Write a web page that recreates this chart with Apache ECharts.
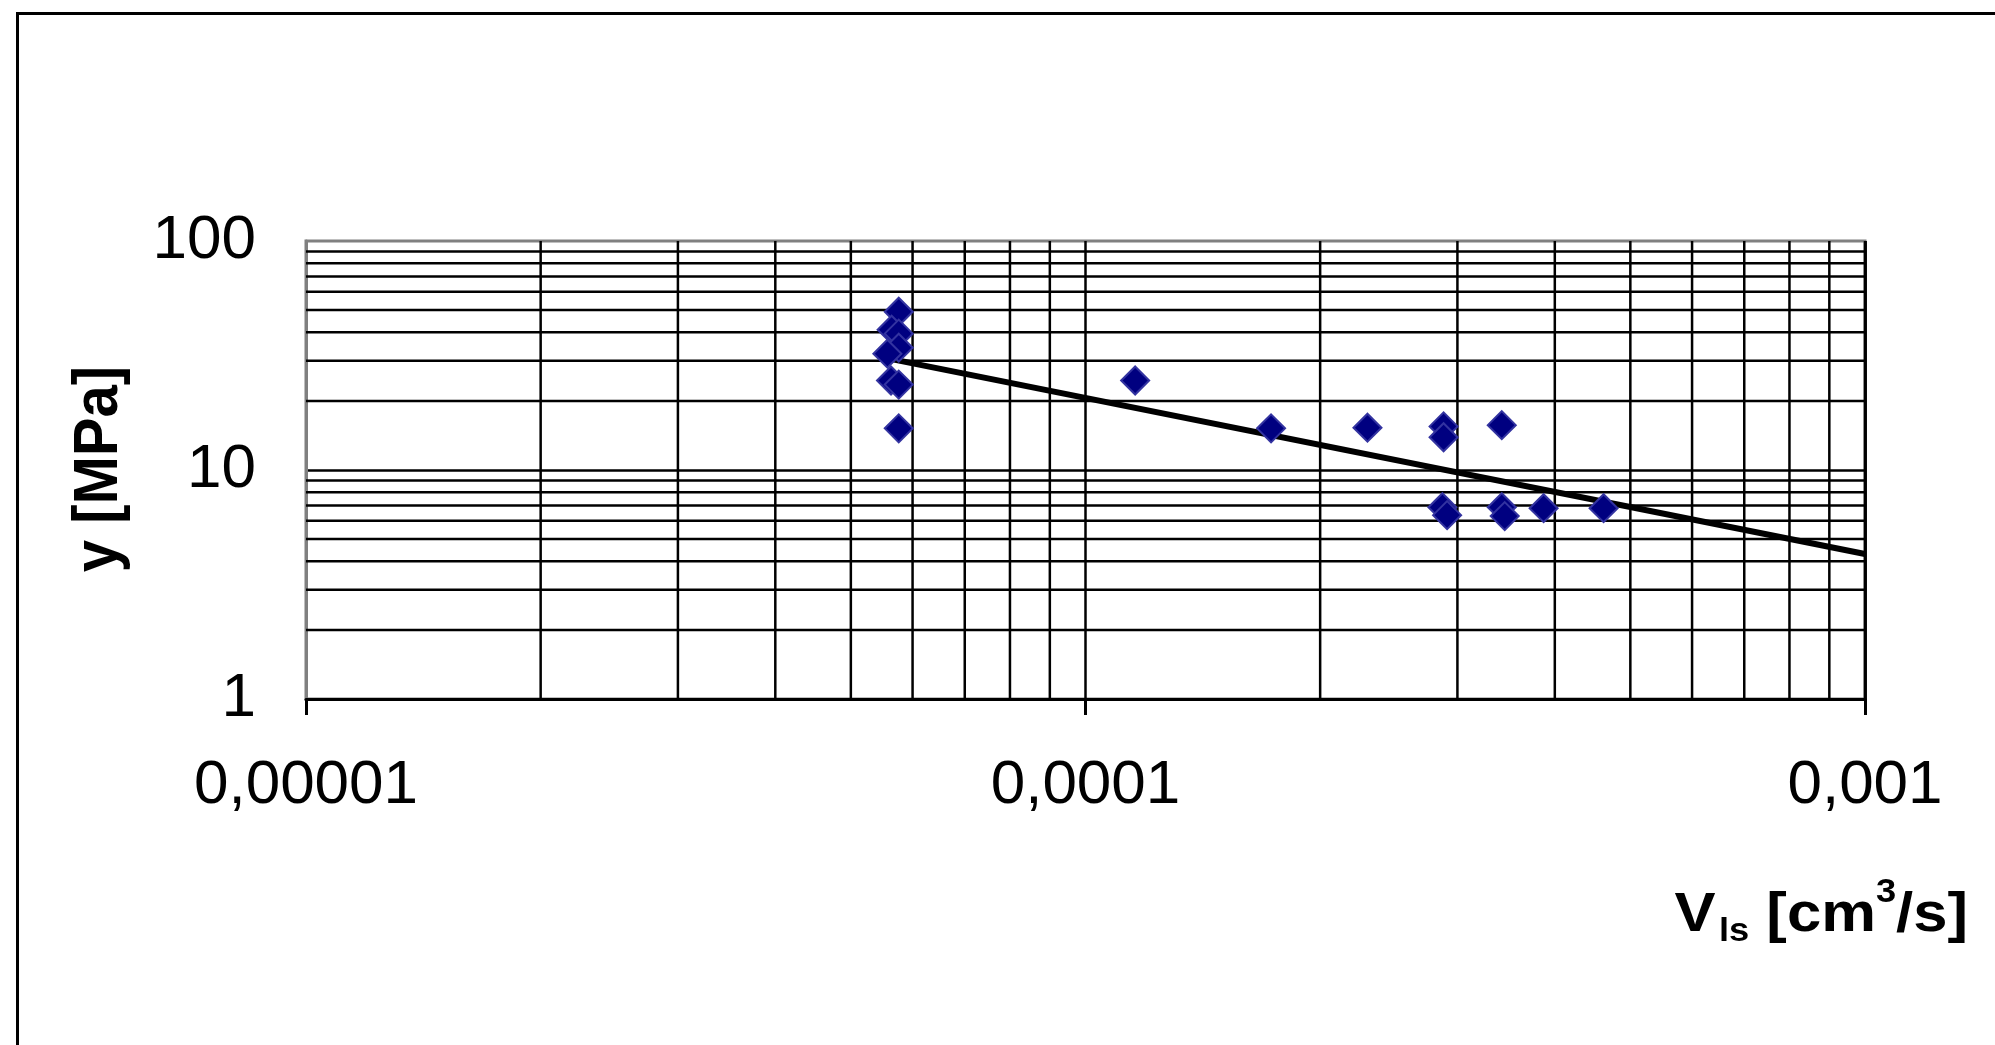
<!DOCTYPE html>
<html lang="en">
<head>
  <meta charset="UTF-8">
  <title>y vs Vls</title>
  <style>
    html, body { margin: 0; padding: 0; background: #fff; }
    #chart { width: 1995px; height: 1045px; }
  </style>
</head>
<body>
  <div id="chart"></div>
  <script src="https://cdn.jsdelivr.net/npm/echarts@6/dist/echarts.min.js"></script>
  <script>
    // tick labels (decimal comma, as in the original)
    const xTicks = [0.00001, 0.0001, 0.001];
    const xTickLabels = ['0,00001', '0,0001', '0,001'];
    const yTicks = [1, 10, 100];
    const yTickLabels = ['1', '10', '100'];

    // minor grid lines of the log-log paper
    const xMinorGrid = [2e-5, 3e-5, 4e-5, 5e-5, 6e-5, 7e-5, 8e-5, 9e-5,
                        2e-4, 3e-4, 4e-4, 5e-4, 6e-4, 7e-4, 8e-4, 9e-4, 1e-3];
    const yMinorGrid = [2, 3, 4, 5, 6, 7, 8, 9, 20, 30, 40, 50, 60, 70, 80, 90];

    // measured points: Vls [cm3/s] and y [MPa]
    const vls = [5.76e-5, 5.64e-5, 5.76e-5, 5.76e-5, 5.57e-5, 5.63e-5, 5.76e-5, 5.76e-5,
                 1.158e-4, 1.73e-4, 2.30e-4, 2.88e-4, 2.88e-4, 3.42e-4,
                 2.87e-4, 2.91e-4, 3.42e-4, 3.45e-4, 3.87e-4, 4.62e-4];
    const yMPa = [49.1, 41.0, 39.4, 34.2, 32.2, 24.6, 23.6, 15.2,
                  24.6, 15.2, 15.3, 15.5, 13.9, 15.7,
                  6.88, 6.35, 6.88, 6.29, 6.81, 6.81];

    // power trend line end points
    const trendX = [5.64e-5, 1e-3];
    const trendY = [30.5, 4.3];

    function pickLabel(v, ticks, labels) {
      let best = 0;
      for (let i = 1; i < ticks.length; i++) {
        if (Math.abs(Math.log10(v) - Math.log10(ticks[i])) <
            Math.abs(Math.log10(v) - Math.log10(ticks[best]))) best = i;
      }
      return labels[best];
    }

    const font = 'Liberation Sans, Arial, sans-serif';
    const gridStyle = { color: '#000', width: 2.5 };

    function gridSeries(points) {
      return {
        type: 'line', z: 1, silent: true, symbol: 'none', showSymbol: false,
        lineStyle: gridStyle, data: points
      };
    }
    const gridLines = xMinorGrid.map(x => gridSeries([[x, 1], [x, 100]]))
      .concat(yMinorGrid.map(y => gridSeries([[xTicks[0], y], [xTicks[2], y]])));

    const chart = echarts.init(document.getElementById('chart'), null, { renderer: 'canvas' });

    const option = {
      animation: false,
      backgroundColor: '#fff',
      grid: {
        left: 306, top: 241, width: 1559, height: 458,
        show: true, borderColor: '#808080', borderWidth: 3, backgroundColor: 'transparent'
      },
      xAxis: {
        type: 'log', logBase: 10, min: 0.00001, max: 0.001,
        axisLine: { show: true, lineStyle: { color: '#000', width: 3 } },
        axisTick: { show: true, length: 16, lineStyle: { color: '#000', width: 3 } },
        axisLabel: {
          margin: 56, fontSize: 62, color: '#000', fontFamily: font,
          formatter: v => pickLabel(v, xTicks, xTickLabels)
        },
        splitLine: { show: true, showMinLine: false, lineStyle: gridStyle }
      },
      yAxis: {
        type: 'log', logBase: 10, min: 1, max: 100,
        axisLine: { show: true, lineStyle: { color: '#808080', width: 3 } },
        axisTick: { show: false },
        axisLabel: {
          margin: 50, fontSize: 62, color: '#000', fontFamily: font,
          formatter: v => pickLabel(v, yTicks, yTickLabels)
        },
        splitLine: { show: true, showMaxLine: false, lineStyle: gridStyle }
      },
      series: gridLines.concat([
        {
          type: 'line',
          z: 2,
          data: trendX.map((x, i) => [x, trendY[i]]),
          showSymbol: false,
          symbol: 'none',
          lineStyle: { color: '#000', width: 6 },
          silent: true
        },
        {
          type: 'scatter',
          z: 3,
          symbol: 'diamond',
          symbolSize: 28,
          itemStyle: { color: '#000080', borderColor: '#3333a0', borderWidth: 2, opacity: 1 },
          data: vls.map((x, i) => [x, yMPa[i]])
        }
      ]),
      graphic: [
        {
          type: 'rect', silent: true, z: 10,
          shape: { x: 17.5, y: 13.5, width: 2100, height: 1100 },
          style: { fill: 'none', stroke: '#000', lineWidth: 3 }
        },
        {
          type: 'text', x: 99, y: 469, rotation: Math.PI / 2, scaleY: 1.1,
          style: { text: 'y [MPa]', font: 'bold 58px ' + font, fill: '#000', align: 'center', verticalAlign: 'middle' }
        },
        {
          type: 'group', x: 1968, y: 0, scaleX: 1.1,
          children: [
            { type: 'text', x: -266.8, y: 916, style: { text: 'V', font: 'bold 56px ' + font, fill: '#000', verticalAlign: 'middle' } },
            { type: 'text', x: -226.4, y: 932, style: { text: 'ls', font: 'bold 33px ' + font, fill: '#000', verticalAlign: 'middle' } },
            { type: 'text', x: -183.3, y: 916, style: { text: '[cm', font: 'bold 56px ' + font, fill: '#000', verticalAlign: 'middle' } },
            { type: 'text', x: -83.7, y: 893, style: { text: '3', font: 'bold 33px ' + font, fill: '#000', verticalAlign: 'middle' } },
            { type: 'text', x: 0, y: 916, style: { text: '/s]', font: 'bold 56px ' + font, fill: '#000', align: 'right', verticalAlign: 'middle' } }
          ]
        }
      ]
    };
    chart.setOption(option);
  </script>
</body>
</html>
